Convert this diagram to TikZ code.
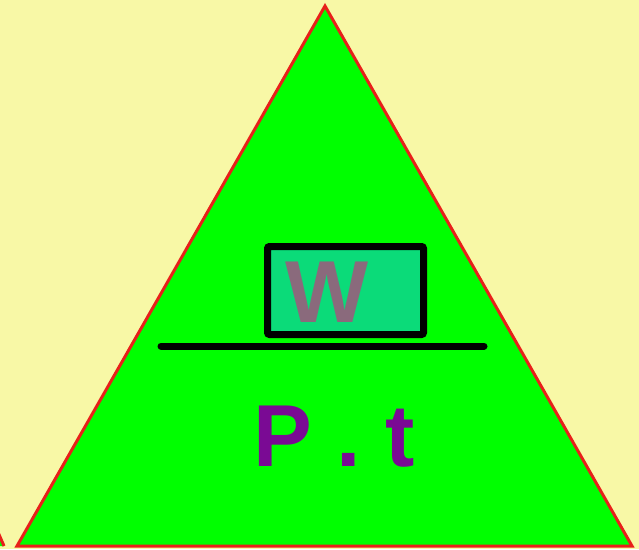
\documentclass[tikz,border=0pt]{standalone}
\usepackage{fontspec}
\setmainfont{Liberation Sans}
\definecolor{paleyellow}{HTML}{F8F8A6}
\definecolor{brightgreen}{HTML}{00FF00}
\definecolor{edgered}{HTML}{E8201A}
\definecolor{boxgreen}{HTML}{0BDB79}
\definecolor{wgray}{HTML}{8A6A7C}
\definecolor{ptpurple}{HTML}{7A0A94}

\begin{document}
\begin{tikzpicture}[
  x=1pt, y=-1pt,
  tri/.style={draw=edgered, line width=3pt, fill=brightgreen, line join=miter},
  wordbox/.style={draw=black, line width=7pt, rounded corners=2pt, fill=boxgreen},
  bar/.style={draw=black, line width=7pt, line cap=round},
  letters/.style={font=\fontsize{88}{88}\bfseries\selectfont, inner sep=0pt}
]
% background and page size
\fill[paleyellow] (0,0) rectangle (639,549);
\useasboundingbox (0,0) rectangle (639,549);

% edge of the next triangle, just showing
\begin{scope}
\clip (0,0) rectangle (639,549);
\draw[tri] (-40,546) -- (-16,500) -- (4,546);
\end{scope}

% main triangle
\coordinate (apex) at (325,6);
\coordinate (baseL) at (17,546);
\coordinate (baseR) at (632,546);
\draw[tri] (apex) -- (baseR) -- (baseL) -- cycle;

% numerator
\node[wordbox, minimum width=156pt, minimum height=88pt] (wbox) at (345.5,290.5) {};
\node[letters, text=wgray, anchor=base] (work) at (327,322) {W};

% fraction bar
\coordinate (barL) at (161,346);
\coordinate (barR) at (484,346);
\draw[bar] (barL) -- (barR);

% denominator
\node[letters, text=ptpurple, anchor=base] (power) at (334,466) {P . t};
\end{tikzpicture}
\end{document}
